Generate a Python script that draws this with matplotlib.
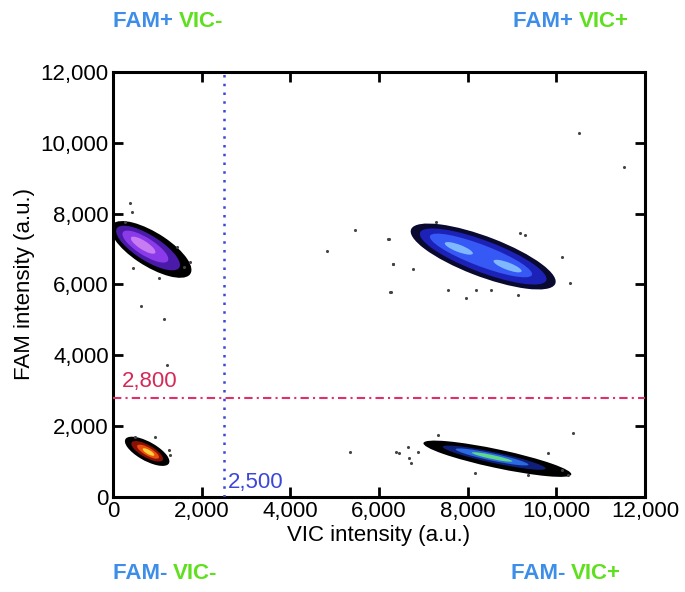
import matplotlib
matplotlib.use("Agg")
import matplotlib.pyplot as plt
from matplotlib.patches import Ellipse

plt.rcParams['font.family'] = ['Liberation Sans', 'DejaVu Sans']

# ---------------- data ----------------
x_ticks = [0, 2000, 4000, 6000, 8000, 10000, 12000]
y_ticks = [0, 2000, 4000, 6000, 8000, 10000, 12000]
tick_labels = ["0", "2,000", "4,000", "6,000", "8,000", "10,000", "12,000"]

vic_threshold = 2500
fam_threshold = 2800

# cluster layers: (center_vic, center_fam, major, minor, angle_deg, colour)
cluster_fam_pos_vic_neg = [
    (860, 6990, 2250, 900, -40, "#000000"),
    (790, 7030, 1800, 660, -40, "#4a1aa8"),
    (730, 7070, 1300, 450, -40, "#8a3ae8"),
    (680, 7110, 700, 230, -40, "#c77cf2"),
]
cluster_fam_neg_vic_neg = [
    (770, 1290, 1200, 500, -37, "#000000"),
    (770, 1290, 860, 330, -37, "#8a0f05"),
    (790, 1280, 600, 210, -37, "#e8500c"),
    (800, 1270, 320, 110, -37, "#ffd23a"),
]
cluster_fam_pos_vic_pos = [
    (8350, 6790, 3600, 1100, -26, "#0a0a30"),
    (8350, 6790, 3150, 860, -26, "#1c22b8"),
    (8300, 6820, 2550, 580, -26, "#3658f5"),
    (7800, 7020, 700, 200, -26, "#7fb8ff"),
    (8900, 6520, 700, 200, -26, "#7fb8ff"),
]
cluster_fam_neg_vic_pos = [
    (8670, 1080, 3450, 520, -15, "#000000"),
    (8600, 1110, 2400, 300, -15, "#10207a"),
    (8550, 1130, 1700, 200, -15, "#2a6ae0"),
    (8550, 1130, 950, 110, -15, "#5fd88a"),
]
clusters = [cluster_fam_pos_vic_neg, cluster_fam_neg_vic_neg,
            cluster_fam_pos_vic_pos, cluster_fam_neg_vic_pos]

# scattered droplets (VIC, FAM)
scatter_vic = [385, 423, 272, 1442, 1743, 1592, 1026, 460,
               498, 951, 1253, 1291,
               6233, 6310, 6763, 7291, 7556, 7970, 8196, 8536, 9140, 9177, 9290, 10121, 10309, 6272,
               6385, 6460, 6649, 6687, 6725, 6876, 7329, 8158, 9366, 9819, 10272, 10385, 10121,
               634, 1155, 1222, 5456, 4822, 6317, 6249, 6203, 10505, 11524, 5343]
scatter_fam = [8292, 8056, 7773, 7067, 6644, 6503, 6175, 6457,
               1703, 1703, 1327, 1186,
               7276, 6589, 6447, 7773, 5845, 5610, 5845, 5845, 5703, 7446, 7398, 6785, 6034, 5797,
               1280, 1233, 1421, 1092, 951, 1280, 1751, 669, 621, 1233, 621, 1798, 762,
               5393, 5025, 3727, 7538, 6945, 6578, 5788, 7284, 10277, 9317, 1270]

corner_labels = [("FAM+", "VIC-"), ("FAM+", "VIC+"), ("FAM-", "VIC-"), ("FAM-", "VIC+")]

# ---------------- figure ----------------
fig = plt.figure(figsize=(6.85, 5.92), dpi=100)
ax = fig.add_axes([0.165, 0.1605, 0.7766, 0.7179])

for layers in clusters:
    for cx, cy, w, h, ang, col in layers:
        ax.add_patch(Ellipse((cx, cy), w, h, angle=ang, facecolor=col,
                             edgecolor='none', zorder=2))

ax.scatter(scatter_vic, scatter_fam, s=5, color="#444444", zorder=3, linewidths=0)

ax.axvline(vic_threshold, color="#3c46d8", linestyle=(0, (1, 2.5)), linewidth=1.8, zorder=4)
ax.axhline(fam_threshold, color="#e0306a", linestyle=(0, (4, 2, 1, 2)), linewidth=1.5, zorder=4)

ax.text(200, fam_threshold + 160, "2,800", color="#d42a5a", fontsize=16,
        ha='left', va='bottom')
ax.text(vic_threshold + 100, 120, "2,500", color="#3c46d8", fontsize=16,
        ha='left', va='bottom')

ax.set_xlim(0, 12000)
ax.set_ylim(0, 12000)
ax.set_xticks(x_ticks)
ax.set_yticks(y_ticks)
ax.set_xticklabels(tick_labels)
ax.set_yticklabels(tick_labels)
ax.tick_params(direction='in', length=7, width=2, labelsize=16, pad=3,
               top=True, right=True)
for sp in ax.spines.values():
    sp.set_linewidth(2.2)

ax.set_xlabel("VIC intensity (a.u.)", fontsize=16, labelpad=2)
ax.set_ylabel("FAM intensity (a.u.)", fontsize=16, labelpad=4)

fam_col = "#3d8ee8"
vic_col = "#5ee01e"
positions = [(0.261, 0.963), (0.845, 0.963), (0.253, 0.031), (0.834, 0.031)]
for (fam, vic), (fx, fy) in zip(corner_labels, positions):
    fig.text(fx, fy, fam + " ", color=fam_col, fontsize=16, fontweight='bold',
             ha='right', va='center')
    fig.text(fx, fy, vic, color=vic_col, fontsize=16, fontweight='bold',
             ha='left', va='center')

fig.savefig("out.png", dpi=100, facecolor='white')
